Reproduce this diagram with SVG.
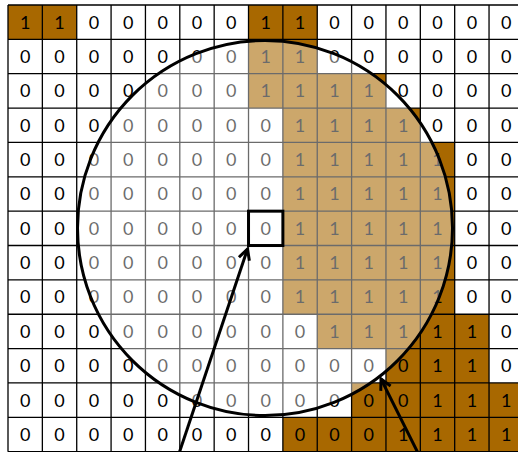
<svg xmlns="http://www.w3.org/2000/svg" width="518" height="452" viewBox="0 0 518 452">
<defs>
<style>
.bg{fill:#ffffff}
.fg{fill:#A86800}
.grid{stroke:#000000;stroke-width:1.3;fill:none}
.t text{font-family:Lato,"Liberation Sans",Arial,sans-serif;font-size:18px;fill:#000000;text-anchor:middle}
.ov{fill:#ffffff;fill-opacity:0.42;stroke:none}
.ring{fill:none;stroke:#000000;stroke-width:3}
.sel{fill:none;stroke:#000000;stroke-width:3}
.arrow{stroke:#000000;stroke-width:3;fill:none;marker-end:url(#head)}
</style>
<marker id="head" markerUnits="userSpaceOnUse" markerWidth="16" markerHeight="16" refX="12" refY="7" orient="auto">
<path d="M1.5,1.5 L12,7 L1.5,12.5" fill="none" stroke="#000000" stroke-width="3"/>
</marker>
</defs>
<rect class="bg" x="0" y="0" width="518" height="452"/>
<g id="cells">
<rect class="fg" x="8" y="5" width="68.72" height="34.36"/>
<rect class="fg" x="248.52" y="5" width="68.72" height="34.36"/>
<rect class="fg" x="248.52" y="39.36" width="68.72" height="34.36"/>
<rect class="fg" x="248.52" y="73.72" width="137.44" height="34.36"/>
<rect class="fg" x="282.88" y="108.08" width="137.44" height="34.36"/>
<rect class="fg" x="282.88" y="142.44" width="171.8" height="171.8"/>
<rect class="fg" x="317.24" y="314.24" width="171.8" height="34.36"/>
<rect class="fg" x="385.96" y="348.6" width="103.08" height="34.36"/>
<rect class="fg" x="351.6" y="382.96" width="171.8" height="34.36"/>
<rect class="fg" x="282.88" y="417.32" width="240.52" height="34.36"/>
</g>
<g id="grid" class="grid">
<path d="M8,5V451.68M42.36,5V451.68M76.72,5V451.68M111.08,5V451.68M145.44,5V451.68M179.8,5V451.68M214.16,5V451.68M248.52,5V451.68M282.88,5V451.68M317.24,5V451.68M351.6,5V451.68M385.96,5V451.68M420.32,5V451.68M454.68,5V451.68M489.04,5V451.68"/>
<path d="M8,5H523M8,39.36H523M8,73.72H523M8,108.08H523M8,142.44H523M8,176.8H523M8,211.16H523M8,245.52H523M8,279.88H523M8,314.24H523M8,348.6H523M8,382.96H523M8,417.32H523M8,451.68H523"/>
</g>
<g id="values" class="t">
<g transform="translate(0,28.6)">
<text x="25.18">1</text><text x="59.54">1</text><text x="93.9">0</text><text x="128.26">0</text><text x="162.62">0</text><text x="196.98">0</text><text x="231.34">0</text><text x="265.7">1</text><text x="300.06">1</text><text x="334.42">0</text><text x="368.78">0</text><text x="403.14">0</text><text x="437.5">0</text><text x="471.86">0</text><text x="506.22">0</text>
</g>
<g transform="translate(0,62.96)">
<text x="25.18">0</text><text x="59.54">0</text><text x="93.9">0</text><text x="128.26">0</text><text x="162.62">0</text><text x="196.98">0</text><text x="231.34">0</text><text x="265.7">1</text><text x="300.06">1</text><text x="334.42">0</text><text x="368.78">0</text><text x="403.14">0</text><text x="437.5">0</text><text x="471.86">0</text><text x="506.22">0</text>
</g>
<g transform="translate(0,97.32)">
<text x="25.18">0</text><text x="59.54">0</text><text x="93.9">0</text><text x="128.26">0</text><text x="162.62">0</text><text x="196.98">0</text><text x="231.34">0</text><text x="265.7">1</text><text x="300.06">1</text><text x="334.42">1</text><text x="368.78">1</text><text x="403.14">0</text><text x="437.5">0</text><text x="471.86">0</text><text x="506.22">0</text>
</g>
<g transform="translate(0,131.68)">
<text x="25.18">0</text><text x="59.54">0</text><text x="93.9">0</text><text x="128.26">0</text><text x="162.62">0</text><text x="196.98">0</text><text x="231.34">0</text><text x="265.7">0</text><text x="300.06">1</text><text x="334.42">1</text><text x="368.78">1</text><text x="403.14">1</text><text x="437.5">0</text><text x="471.86">0</text><text x="506.22">0</text>
</g>
<g transform="translate(0,166.04)">
<text x="25.18">0</text><text x="59.54">0</text><text x="93.9">0</text><text x="128.26">0</text><text x="162.62">0</text><text x="196.98">0</text><text x="231.34">0</text><text x="265.7">0</text><text x="300.06">1</text><text x="334.42">1</text><text x="368.78">1</text><text x="403.14">1</text><text x="437.5">1</text><text x="471.86">0</text><text x="506.22">0</text>
</g>
<g transform="translate(0,200.4)">
<text x="25.18">0</text><text x="59.54">0</text><text x="93.9">0</text><text x="128.26">0</text><text x="162.62">0</text><text x="196.98">0</text><text x="231.34">0</text><text x="265.7">0</text><text x="300.06">1</text><text x="334.42">1</text><text x="368.78">1</text><text x="403.14">1</text><text x="437.5">1</text><text x="471.86">0</text><text x="506.22">0</text>
</g>
<g transform="translate(0,234.76)">
<text x="25.18">0</text><text x="59.54">0</text><text x="93.9">0</text><text x="128.26">0</text><text x="162.62">0</text><text x="196.98">0</text><text x="231.34">0</text><text x="265.7">0</text><text x="300.06">1</text><text x="334.42">1</text><text x="368.78">1</text><text x="403.14">1</text><text x="437.5">1</text><text x="471.86">0</text><text x="506.22">0</text>
</g>
<g transform="translate(0,269.12)">
<text x="25.18">0</text><text x="59.54">0</text><text x="93.9">0</text><text x="128.26">0</text><text x="162.62">0</text><text x="196.98">0</text><text x="231.34">0</text><text x="265.7">0</text><text x="300.06">1</text><text x="334.42">1</text><text x="368.78">1</text><text x="403.14">1</text><text x="437.5">1</text><text x="471.86">0</text><text x="506.22">0</text>
</g>
<g transform="translate(0,303.48)">
<text x="25.18">0</text><text x="59.54">0</text><text x="93.9">0</text><text x="128.26">0</text><text x="162.62">0</text><text x="196.98">0</text><text x="231.34">0</text><text x="265.7">0</text><text x="300.06">1</text><text x="334.42">1</text><text x="368.78">1</text><text x="403.14">1</text><text x="437.5">1</text><text x="471.86">0</text><text x="506.22">0</text>
</g>
<g transform="translate(0,337.84)">
<text x="25.18">0</text><text x="59.54">0</text><text x="93.9">0</text><text x="128.26">0</text><text x="162.62">0</text><text x="196.98">0</text><text x="231.34">0</text><text x="265.7">0</text><text x="300.06">0</text><text x="334.42">1</text><text x="368.78">1</text><text x="403.14">1</text><text x="437.5">1</text><text x="471.86">1</text><text x="506.22">0</text>
</g>
<g transform="translate(0,372.2)">
<text x="25.18">0</text><text x="59.54">0</text><text x="93.9">0</text><text x="128.26">0</text><text x="162.62">0</text><text x="196.98">0</text><text x="231.34">0</text><text x="265.7">0</text><text x="300.06">0</text><text x="334.42">0</text><text x="368.78">0</text><text x="403.14">0</text><text x="437.5">1</text><text x="471.86">1</text><text x="506.22">0</text>
</g>
<g transform="translate(0,406.56)">
<text x="25.18">0</text><text x="59.54">0</text><text x="93.9">0</text><text x="128.26">0</text><text x="162.62">0</text><text x="196.98">0</text><text x="231.34">0</text><text x="265.7">0</text><text x="300.06">0</text><text x="334.42">0</text><text x="368.78">0</text><text x="403.14">0</text><text x="437.5">1</text><text x="471.86">1</text><text x="506.22">1</text>
</g>
<g transform="translate(0,440.92)">
<text x="25.18">0</text><text x="59.54">0</text><text x="93.9">0</text><text x="128.26">0</text><text x="162.62">0</text><text x="196.98">0</text><text x="231.34">0</text><text x="265.7">0</text><text x="300.06">0</text><text x="334.42">0</text><text x="368.78">0</text><text x="403.14">1</text><text x="437.5">1</text><text x="471.86">1</text><text x="506.22">1</text>
</g>
</g>
<g id="window">
<circle class="ov" cx="265" cy="228" r="187.5"/>
<circle class="ring" cx="265" cy="228" r="187.5"/>
</g>
<g id="selected-cell">
<rect class="sel" x="248.52" y="211.16" width="34.36" height="34.36"/>
</g>
<g id="connectors">
<line class="arrow" x1="178.5" y1="455" x2="247.5" y2="249"/>
<line class="arrow" x1="419" y1="455" x2="381" y2="379"/>
</g>
</svg>
